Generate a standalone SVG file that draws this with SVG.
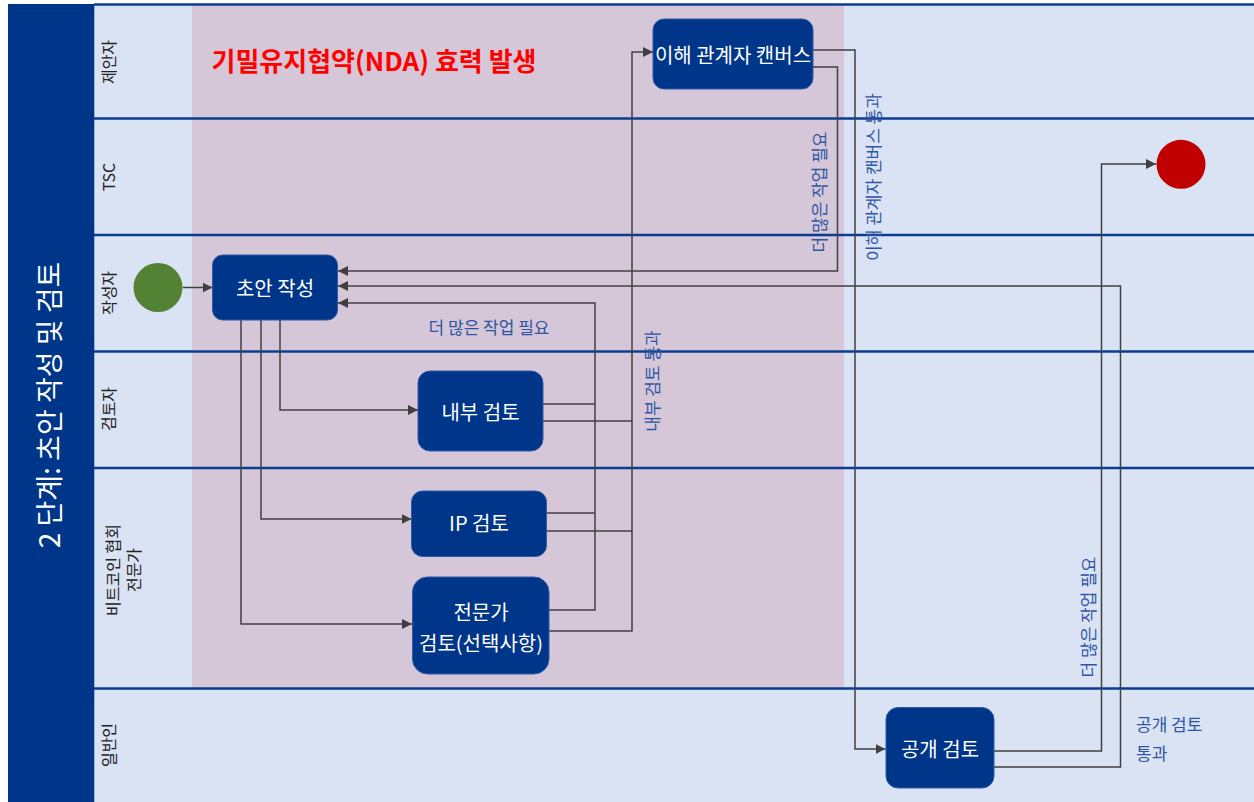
<svg xmlns="http://www.w3.org/2000/svg" width="1254" height="802" viewBox="0 0 1254 802">
<defs>
<marker id="arr" viewBox="0 0 10 10" refX="10" refY="5" markerWidth="10" markerHeight="10" markerUnits="userSpaceOnUse" orient="auto">
<path d="M0,0 L10,5 L0,10 z" fill="#404040"/>
</marker>
<style>
.lane{fill:#DAE3F3}
.lanebd{stroke:#0B3C8F;stroke-width:2.5}
.lbl{font-family:"Noto Sans CJK KR","Noto Sans",sans-serif;font-size:16px;fill:#222;text-anchor:middle;dominant-baseline:central}
.box{fill:#003689;stroke:#2E5AA8;stroke-width:1}
.nt{font-family:"Noto Sans CJK KR","Noto Sans",sans-serif;font-size:20px;fill:#fff;text-anchor:middle;dominant-baseline:central}
.conn{fill:none;stroke:#404040;stroke-width:1.5}
.el{font-family:"Noto Sans CJK KR","Noto Sans",sans-serif;font-size:17px;fill:#2E55A4;text-anchor:middle;dominant-baseline:central}
.els{font-family:"Noto Sans CJK KR","Noto Sans",sans-serif;font-size:17px;fill:#2E55A4;text-anchor:start;dominant-baseline:central}
</style>
</defs>
<rect x="0" y="0" width="1254" height="802" fill="#ffffff"/>
<g id="lanes">
<rect class="lane" x="94" y="4" width="1160" height="798"/>
<rect x="192" y="5" width="652" height="683" fill="#D5C6D8"/>
<line x1="94" y1="4" x2="94" y2="802" stroke="#5B7FC0" stroke-width="1"/>
<line class="lanebd" x1="94" y1="4.5" x2="1254" y2="4.5"/>
<line class="lanebd" x1="94" y1="118.5" x2="1254" y2="118.5"/>
<line class="lanebd" x1="94" y1="235" x2="1254" y2="235"/>
<line class="lanebd" x1="94" y1="351.5" x2="1254" y2="351.5"/>
<line class="lanebd" x1="94" y1="468" x2="1254" y2="468"/>
<line class="lanebd" x1="94" y1="688.5" x2="1254" y2="688.5"/>
<text class="lbl" transform="rotate(-90 108 62)" x="108" y="62">제안자</text>
<text class="lbl" transform="rotate(-90 108 177)" x="108" y="177">TSC</text>
<text class="lbl" transform="rotate(-90 108 293)" x="108" y="293">작성자</text>
<text class="lbl" transform="rotate(-90 108 409)" x="108" y="409">검토자</text>
<text class="lbl" transform="rotate(-90 122 570)" x="122" y="570"><tspan x="122" dy="-10.5">비트코인 협회</tspan><tspan x="122" dy="21">전문가</tspan></text>
<text class="lbl" transform="rotate(-90 108 745)" x="108" y="745">일반인</text>
</g>
<g id="title">
<rect x="8" y="4" width="86" height="798" fill="#003689"/>
<text transform="rotate(-90 48 405)" x="48" y="405" font-family="Noto Sans CJK KR, Noto Sans, sans-serif" font-size="28" fill="#ffffff" text-anchor="middle" dominant-baseline="central">2 단계: 초안 작성 및 검토</text>
</g>
<g id="nda">
<text x="374" y="59" font-family="Noto Sans CJK KR, Noto Sans, sans-serif" font-size="26" font-weight="bold" fill="#FF0000" text-anchor="middle" dominant-baseline="central">기밀유지협약(NDA) 효력 발생</text>
</g>
<g id="connectors">
<path class="conn" d="M183,287.5 L212.5,287.5" marker-end="url(#arr)"/>
<path class="conn" d="M280,320 L280,410 L418,410" marker-end="url(#arr)"/>
<path class="conn" d="M261,320 L261,519 L411.5,519" marker-end="url(#arr)"/>
<path class="conn" d="M241,320 L241,624 L412,624" marker-end="url(#arr)"/>
<path class="conn" d="M543,404 L595,404 M546.5,513 L595,513 M549,610 L595,610 L595,303 L338,303" marker-end="url(#arr)"/>
<path class="conn" d="M543,421 L632,421 M546.5,531 L632,531 M549,631 L632,631 L632,52 L653,52" marker-end="url(#arr)"/>
<path class="conn" d="M813,67 L837.5,67 L837.5,271 L338,271" marker-end="url(#arr)"/>
<path class="conn" d="M813,50 L855,50 L855,749 L885.5,749" marker-end="url(#arr)"/>
<path class="conn" d="M994,751 L1101.5,751 L1101.5,164 L1156,164" marker-end="url(#arr)"/>
<path class="conn" d="M994,767 L1120.5,767 L1120.5,286 L338,286" marker-end="url(#arr)"/>
<text class="el" x="489" y="326">더 많은 작업 필요</text>
<text class="el" transform="rotate(-90 651 381)" x="651" y="381">내부 검토 통과</text>
<text class="el" transform="rotate(-90 818 192)" x="818" y="192">더 많은 작업 필요</text>
<text class="el" transform="rotate(-90 872 177)" x="872" y="177">이해 관계자 캔버스 통과</text>
<text class="el" transform="rotate(-90 1087 617)" x="1087" y="617">더 많은 작업 필요</text>
<text class="els" x="1136" y="723">공개 검토</text>
<text class="els" x="1136" y="752">통과</text>
</g>
<g id="start">
<circle cx="158" cy="287.5" r="24.5" fill="#548235"/>
</g>
<g id="end">
<circle cx="1181" cy="164.3" r="24.5" fill="#C00000"/>
</g>
<g id="draft">
<rect class="box" x="212.5" y="255" width="125" height="65" rx="10"/>
<text class="nt" x="275" y="287.5">초안 작성</text>
</g>
<g id="canvas">
<rect class="box" x="653" y="19" width="160" height="70" rx="11"/>
<text class="nt" x="733" y="54">이해 관계자 캔버스</text>
</g>
<g id="internal">
<rect class="box" x="418" y="371" width="125" height="80" rx="12"/>
<text class="nt" x="480.5" y="411">내부 검토</text>
</g>
<g id="ip">
<rect class="box" x="411.5" y="491" width="135" height="65.5" rx="11"/>
<text class="nt" x="479" y="522">IP 검토</text>
</g>
<g id="expert">
<rect class="box" x="412.5" y="577" width="136.5" height="97" rx="15"/>
<text class="nt" x="481" y="611">전문가</text>
<text class="nt" x="481" y="642">검토(선택사항)</text>
</g>
<g id="public">
<rect class="box" x="886" y="707.5" width="108" height="80.5" rx="12"/>
<text class="nt" x="940" y="748">공개 검토</text>
</g>
</svg>
